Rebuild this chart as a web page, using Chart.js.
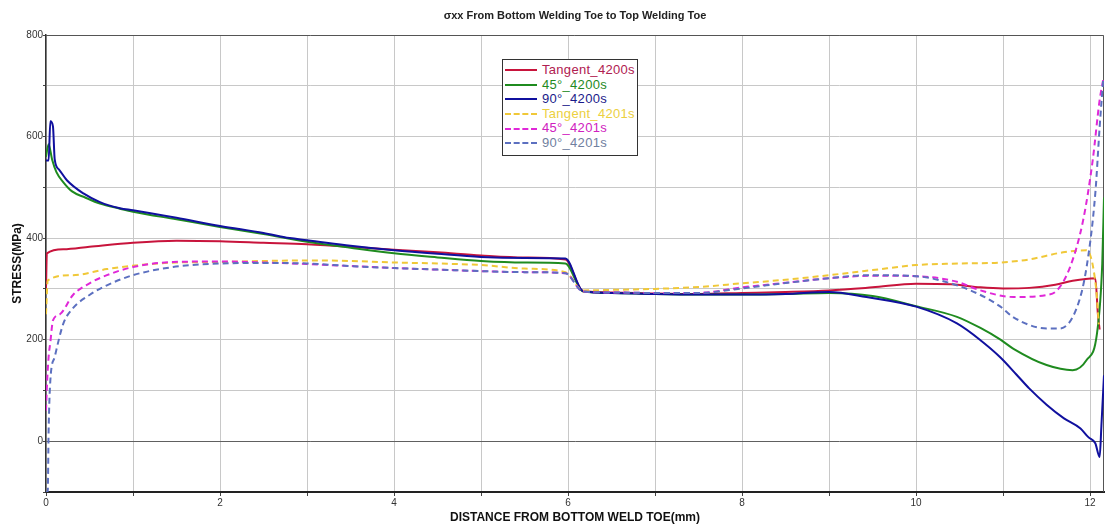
<!DOCTYPE html>
<html>
<head>
<meta charset="utf-8">
<script src="https://cdn.jsdelivr.net/npm/chart.js@4/dist/chart.umd.min.js"></script>
<style>
  html, body { margin: 0; padding: 0; background: #ffffff; }
  #wrap { position: relative; width: 1106px; height: 527px; }
  #legend { position: absolute; left: 502px; top: 59px; width: 134px; height: 92px;
    border: 1px solid #333; background: #fff; padding-top: 3px; box-sizing: content-box;
    font-family: "Liberation Sans", Arial, sans-serif; font-size: 13px; letter-spacing: 0.3px; }
  .row { height: 14.6px; line-height: 14.6px; white-space: nowrap; display: flex; align-items: center; }
  .sw { width: 32px; height: 0; margin-left: 2px; margin-right: 5px; border-top-width: 2px; }
</style>
</head>
<body>
<div id="wrap">
  <canvas id="c" width="1106" height="527"></canvas>
  <div id="legend"></div>
</div>
<script>
const seriesNames = ["Tangent_4200s", "45°_4200s", "90°_4200s", "Tangent_4201s", "45°_4201s", "90°_4201s"];

const tan4200X = [0, 0.01, 0.2, 0.5, 1.0, 1.5, 2.0, 2.5, 3.0, 3.5, 4.0, 4.5, 5.0, 5.5, 5.97, 6.17, 6.5, 7.0, 7.5, 8.0, 8.5, 9.0, 9.5, 10.0, 10.4, 10.74, 11.0, 11.3, 11.6, 11.8, 12.06, 12.09, 12.11];
const tan4200Y = [300, 370, 378, 383, 391, 395, 394, 391, 388, 383, 377, 372, 366, 362, 358, 296, 293, 291, 290, 292, 294, 297, 303, 310, 309, 303, 301, 302, 308, 316, 321, 250, 220];

const d45_4200X = [0, 0.03, 0.07, 0.12, 0.2, 0.3, 0.45, 0.62, 0.85, 1.0, 1.5, 2.0, 2.5, 3.0, 3.5, 4.0, 4.5, 5.0, 5.5, 5.97, 6.17, 6.5, 7.0, 7.5, 8.0, 8.5, 9.0, 9.5, 10.0, 10.47, 10.74, 10.97, 11.12, 11.5, 11.8, 11.96, 12.08, 12.14, 12.16];
const d45_4200Y = [560, 585, 555, 530, 510, 492, 480, 468, 458, 452, 437, 422, 408, 393, 381, 370, 362, 355, 352, 350, 295, 292, 290, 289, 289, 290, 292, 286, 266, 245, 223, 200, 182, 150, 140, 160, 213, 350, 480];

const d90_4200X = [0, 0.03, 0.05, 0.08, 0.1, 0.15, 0.24, 0.43, 0.62, 0.85, 1.0, 1.5, 2.0, 2.5, 2.8, 3.0, 3.5, 4.0, 4.5, 5.0, 5.5, 5.97, 6.17, 6.5, 7.0, 7.5, 8.0, 8.5, 9.0, 9.43, 10.0, 10.47, 10.74, 10.97, 11.15, 11.3, 11.5, 11.7, 11.89, 11.98, 12.06, 12.11, 12.13, 12.16];
const d90_4200Y = [553, 553, 630, 620, 555, 535, 514, 488, 471, 459, 455, 440, 424, 410, 400, 396, 385, 376, 369, 363, 361, 360, 296, 292, 290, 289, 289, 290, 294, 284, 265, 232, 199, 165, 132, 104, 72, 45, 25, 8, -4, -31, 30, 130];

const tan4201X = [0, 0.02, 0.31, 0.7, 1.08, 1.5, 2.0, 2.5, 3.0, 3.5, 4.0, 4.5, 5.0, 5.5, 5.97, 6.17, 6.5, 7.0, 7.52, 8.0, 8.5, 9.0, 9.5, 10.0, 10.5, 10.97, 11.3, 11.69, 11.96, 12.07, 12.1];
const tan4201Y = [250, 317, 327, 339, 347, 352, 353, 355, 356, 355, 352, 350, 347, 340, 333, 297, 298, 300, 304, 311, 318, 327, 337, 347, 350, 352, 358, 372, 376, 300, 230];

const d45_4201X = [0, 0.01, 0.03, 0.05, 0.08, 0.16, 0.31, 0.5, 0.7, 1.0, 1.46, 2.0, 2.5, 3.0, 3.5, 4.0, 4.5, 5.0, 5.5, 5.97, 6.17, 6.5, 7.0, 7.5, 8.0, 8.5, 9.0, 9.5, 10.0, 10.47, 10.74, 11.12, 11.5, 11.62, 11.77, 11.92, 12.03, 12.11, 12.15];
const d45_4201Y = [60, 107, 166, 195, 238, 250, 288, 311, 327, 343, 353, 354, 352, 349, 345, 341, 338, 335, 333, 331, 295, 293, 292, 292, 303, 312, 321, 326, 325, 314, 297, 284, 288, 297, 343, 435, 553, 672, 711];

const d90_4201X = [0, 0.02, 0.03, 0.05, 0.1, 0.2, 0.31, 0.5, 0.7, 1.0, 1.46, 2.0, 2.5, 3.0, 3.5, 4.0, 4.5, 5.0, 5.5, 5.97, 6.17, 6.5, 7.0, 7.5, 8.0, 8.28, 9.0, 9.43, 10.0, 10.47, 10.74, 10.97, 11.12, 11.5, 11.65, 11.85, 11.96, 12.06, 12.11, 12.15];
const d90_4201Y = [-100, -100, 20, 120, 166, 232, 262, 288, 307, 327, 343, 350, 351, 350, 345, 341, 338, 335, 333, 331, 295, 293, 292, 292, 301, 307, 321, 327, 325, 307, 288, 265, 244, 222, 222, 264, 343, 488, 619, 711];

const xTickLabels = [0, 2, 4, 6, 8, 10, 12];
const yTickLabels = [0, 200, 400, 600, 800];

const lineColors = ["#c8143c", "#1f8b1f", "#10109e", "#f0c838", "#e028d8", "#5c70c0"];
const textColors = ["#b02050", "#1e8a1e", "#1a1a8a", "#ecd040", "#d020c0", "#7080a0"];
const dashed = [false, false, false, true, true, true];

const xsList = [tan4200X, d45_4200X, d90_4200X, tan4201X, d45_4201X, d90_4201X];
const ysList = [tan4200Y, d45_4200Y, d90_4200Y, tan4201Y, d45_4201Y, d90_4201Y];

const datasets = seriesNames.map((name, i) => ({
  label: name,
  data: xsList[i].map((x, k) => ({ x: x, y: ysList[i][k] })),
  borderColor: lineColors[i],
  backgroundColor: lineColors[i],
  borderWidth: 2,
  borderDash: dashed[i] ? [6, 4] : [],
  pointRadius: 0,
  showLine: true,
  fill: false,
  cubicInterpolationMode: 'monotone',
  order: 10 - i
}));

const framePlugin = {
  id: 'frame',
  beforeDatasetsDraw(chart) {
    const a = chart.chartArea, ctx = chart.ctx;
    ctx.save();
    ctx.strokeStyle = '#555';
    ctx.lineWidth = 1;
    ctx.beginPath();
    ctx.moveTo(a.left, a.top + 0.5);
    ctx.lineTo(a.right - 0.5, a.top + 0.5);
    ctx.lineTo(a.right - 0.5, a.bottom);
    ctx.stroke();
    ctx.restore();
  }
};

const font = "'Liberation Sans', Arial, sans-serif";

new Chart(document.getElementById('c'), {
  type: 'scatter',
  data: { datasets: datasets },
  plugins: [framePlugin],
  options: {
    responsive: false,
    animation: false,
    layout: { padding: { left: 0, right: 2, top: 0, bottom: 0 } },
    plugins: {
      legend: { display: false },
      tooltip: { enabled: false },
      title: {
        display: true,
        text: 'σxx From Bottom Welding Toe to Top Welding Toe',
        fullSize: false,
        color: '#222',
        font: { family: font, size: 11, weight: 'bold', lineHeight: 1.2 },
        padding: { top: 9, bottom: 12.8 }
      }
    },
    scales: {
      x: {
        type: 'linear',
        min: 0, max: 12.16,
        afterFit(s) { s.height = 35; },
        border: { color: '#222', width: 2 },
        grid: {
          color: '#c8c8c8', lineWidth: 1, tickLength: 4,
          tickColor: '#444'
        },
        ticks: {
          stepSize: 1, includeBounds: false, autoSkip: false, maxRotation: 0,
          padding: 1, color: '#333',
          font: { family: font, size: 10 },
          callback: (v) => xTickLabels.includes(v) ? String(v) : ''
        },
        title: {
          display: true,
          text: 'DISTANCE FROM BOTTOM WELD TOE(mm)',
          color: '#111',
          font: { family: font, size: 12, weight: 'bold', lineHeight: 1.2 },
          padding: { top: 0, bottom: 2 }
        }
      },
      y: {
        type: 'linear',
        min: -100, max: 800,
        afterFit(s) { s.width = 46; },
        border: { color: '#333', width: 1.5 },
        grid: {
          color: (ctx) => ctx.tick && ctx.tick.value === 0 ? '#606060' : '#c8c8c8',
          lineWidth: 1, tickLength: 3, tickColor: '#444'
        },
        ticks: {
          stepSize: 100, autoSkip: false, padding: 0, color: '#333',
          font: { family: font, size: 10 },
          callback: (v) => yTickLabels.includes(v) ? String(v) : ''
        },
        title: {
          display: true,
          text: 'STRESS(MPa)',
          color: '#111',
          font: { family: font, size: 12, weight: 'bold', lineHeight: 1.2 },
          padding: { top: 10, bottom: 0 }
        }
      }
    }
  }
});

const lg = document.getElementById('legend');
seriesNames.forEach((name, i) => {
  const row = document.createElement('div');
  row.className = 'row';
  const sw = document.createElement('span');
  sw.className = 'sw';
  sw.style.borderTopStyle = dashed[i] ? 'dashed' : 'solid';
  sw.style.borderTopColor = lineColors[i];
  const tx = document.createElement('span');
  tx.textContent = name;
  tx.style.color = textColors[i];
  row.appendChild(sw);
  row.appendChild(tx);
  lg.appendChild(row);
});
</script>
</body>
</html>
